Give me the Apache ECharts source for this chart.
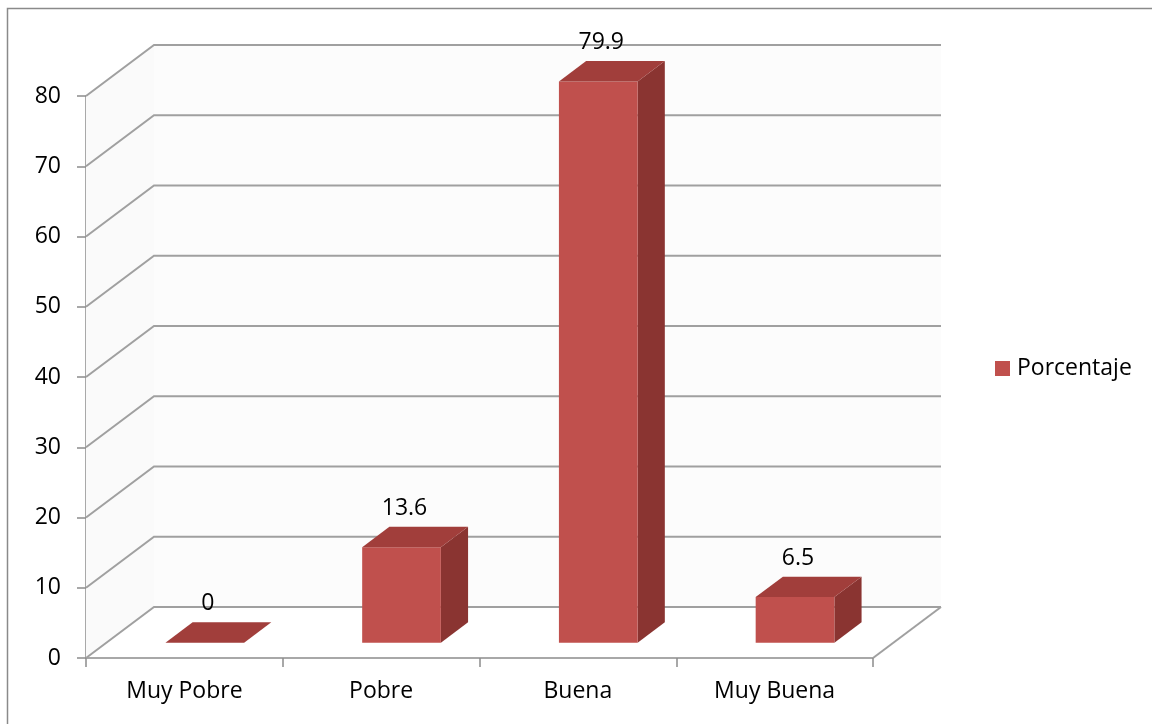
<!DOCTYPE html>
<html>
<head>
<meta charset="utf-8">
<script src="https://cdn.jsdelivr.net/npm/echarts@6/dist/echarts.min.js"></script>
<style>
  html, body { margin: 0; padding: 0; background: #ffffff; }
  #chart { width: 1152px; height: 724px; }
</style>
</head>
<body>
<div id="chart"></div>
<script>
// Chart data
const categories = ['Muy Pobre', 'Pobre', 'Buena', 'Muy Buena'];
const porcentaje = [0, 13.6, 79.9, 6.5];
const yTicks = [0, 10, 20, 30, 40, 50, 60, 70, 80];
const seriesName = 'Porcentaje';

// 3D projection of the plot box: depth vector in pixels
const DEPTH_X = 68;
const DEPTH_Y = -51;
// Bars sit in the middle of the depth: front face at 30%, 40% thick
const BAR_FRONT = 0.3;
const BAR_THICK = 0.4;
const BAR_WIDTH = 0.4; // share of the category band

const FONT = '"Open Sans", "Noto Sans", sans-serif';
const FONT_SIZE = 23;
const GRID_COLOR = '#a0a0a0';
const AXIS_COLOR = '#8c8c8c';

const chart = echarts.init(document.getElementById('chart'), null, { renderer: 'canvas' });

// Walls and gridlines of the 3D box, one item per y tick
function renderGrid(params, api) {
  const cs = params.coordSys;
  const v = api.value(1);
  const y = api.coord([0, v])[1];
  const left = cs.x;
  const right = cs.x + cs.width;
  const children = [];
  if (params.dataIndex === 0) {
    const yTop = api.coord([0, yTicks[yTicks.length - 1]])[1];
    // side wall
    children.push({
      type: 'polygon', z2: 0,
      shape: { points: [[left, y], [left + DEPTH_X, y + DEPTH_Y], [left + DEPTH_X, yTop + DEPTH_Y], [left, yTop]] },
      style: { fill: '#fafafa' }
    });
    // back wall
    children.push({
      type: 'rect', z2: 0,
      shape: { x: left + DEPTH_X, y: yTop + DEPTH_Y, width: cs.width, height: y - yTop },
      style: { fill: '#fcfcfc' }
    });
    // floor right edge
    children.push({
      type: 'line', z2: 1,
      shape: { x1: right, y1: y, x2: right + DEPTH_X, y2: y + DEPTH_Y },
      style: { stroke: GRID_COLOR, lineWidth: 2 }
    });
  }
  children.push({
    type: 'polyline', z2: 1,
    shape: { points: [[left, y], [left + DEPTH_X, y + DEPTH_Y], [right + DEPTH_X, y + DEPTH_Y]] },
    style: { stroke: GRID_COLOR, lineWidth: 2, fill: null }
  });
  return { type: 'group', children: children };
}

// 3D bar: front, top and side faces plus the value label
function renderBar(params, api) {
  const i = api.value(0);
  const v = api.value(1);
  const base = api.coord([i, 0]);
  const top = api.coord([i, v]);
  const band = api.size([1, 0])[0];
  const w = band * BAR_WIDTH;
  const ox = DEPTH_X * BAR_FRONT, oy = DEPTH_Y * BAR_FRONT;
  const tx = DEPTH_X * BAR_THICK, ty = DEPTH_Y * BAR_THICK;
  const x0 = base[0] - w / 2 + ox;
  const x1 = x0 + w;
  const yb = base[1] + oy;
  const yt = top[1] + oy;
  const children = [];
  if (yb - yt > 0.5) {
    children.push({
      type: 'polygon',
      shape: { points: [[x1, yt], [x1 + tx, yt + ty], [x1 + tx, yb + ty], [x1, yb]] },
      style: { fill: '#8a3431' }
    });
    children.push({
      type: 'rect',
      shape: { x: x0, y: yt, width: w, height: yb - yt },
      style: { fill: '#c0504d' }
    });
  }
  children.push({
    type: 'polygon',
    shape: { points: [[x0, yt], [x1, yt], [x1 + tx, yt + ty], [x0 + tx, yt + ty]] },
    style: { fill: '#a13e3b' }
  });
  children.push({
    type: 'text',
    style: {
      text: String(v),
      x: (x0 + x1) / 2 + 3,
      y: yt + ty - 7,
      align: 'center',
      verticalAlign: 'bottom',
      fontSize: FONT_SIZE,
      fontFamily: FONT,
      fill: '#000000'
    }
  });
  return { type: 'group', children: children };
}

const option = {
  backgroundColor: '#ffffff',
  animation: false,
  graphic: [{
    type: 'rect',
    shape: { x: 7.5, y: 8.5, width: 1300, height: 900 },
    style: { fill: null, stroke: '#8a8a8a', lineWidth: 1.5 },
    silent: true
  }],
  legend: {
    data: [seriesName],
    left: 995,
    top: 357,
    padding: 0,
    icon: 'rect',
    itemWidth: 15,
    itemHeight: 15,
    textStyle: { fontSize: FONT_SIZE, fontFamily: FONT, color: '#000000', padding: [0, 0, 0, 2] }
  },
  grid: { left: 86, right: 279, top: 96, bottom: 66, containLabel: false },
  xAxis: {
    type: 'category',
    data: categories,
    boundaryGap: true,
    axisLine: { lineStyle: { color: AXIS_COLOR, width: 1.5 } },
    axisTick: { show: true, length: 9, lineStyle: { color: AXIS_COLOR, width: 1.5 } },
    axisLabel: { fontSize: FONT_SIZE, fontFamily: FONT, color: '#000000', margin: 22 },
    splitLine: { show: false }
  },
  yAxis: {
    type: 'value',
    min: 0,
    max: 80,
    interval: 10,
    axisLine: { show: true, lineStyle: { color: AXIS_COLOR, width: 1.5 } },
    axisTick: { show: true, length: 9, lineStyle: { color: AXIS_COLOR, width: 1.5 } },
    axisLabel: { fontSize: FONT_SIZE, fontFamily: FONT, color: '#000000', margin: 25, padding: [4, 0, 0, 0] },
    splitLine: { show: false }
  },
  series: [
    {
      name: 'grid3d',
      type: 'custom',
      clip: false,
      silent: true,
      z: 1,
      renderItem: renderGrid,
      data: yTicks.map(v => [0, v])
    },
    {
      name: seriesName,
      type: 'custom',
      clip: false,
      z: 3,
      itemStyle: { color: '#c0504d' },
      renderItem: renderBar,
      data: porcentaje.map((v, i) => [i, v])
    }
  ]
};

chart.setOption(option);
</script>
</body>
</html>
